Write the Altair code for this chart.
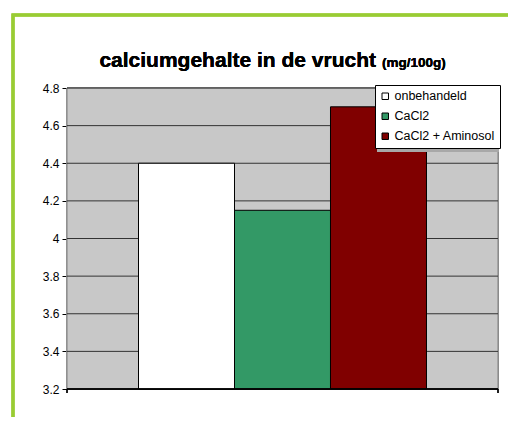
import altair as alt
import pandas as pd

series = ["onbehandeld", "CaCl2", "CaCl2 + Aminosol"]
values = [4.4, 4.15, 4.7]
colors = ["#ffffff", "#339966", "#800000"]
y_ticks = [3.2, 3.4, 3.6, 3.8, 4.0, 4.2, 4.4, 4.6, 4.8]

df = pd.DataFrame({"serie": series, "waarde": values, "basis": [3.2] * 3})
ticks_df = pd.DataFrame({"t": y_ticks})

W, H = 431, 301
FONT = "Liberation Sans"

yscale = alt.Scale(domain=[3.2, 4.8], zero=False, nice=False)
xscale = alt.Scale(domain=series, paddingInner=0, paddingOuter=0.745)

yaxis = alt.Axis(values=y_ticks, title=None, labelFont=FONT, labelFontSize=12,
                 labelColor="#000000", domainColor="#000000", tickColor="#000000",
                 tickSize=5, grid=False, labelPadding=3, labelOverlap=False,
                 labelExpr="datum.value == 4 ? '4' : format(datum.value, '.1f')")

bg = alt.Chart(df).mark_rect(color="#c8c8c8", stroke="#808080", strokeWidth=1).encode(
    x=alt.value(0), x2=alt.value(W), y=alt.value(0), y2=alt.value(H)
)

grid = alt.Chart(ticks_df).mark_rule(color="#333333", strokeWidth=1).encode(
    y=alt.Y("t:Q", scale=yscale, axis=yaxis),
)

bars = alt.Chart(df).mark_bar(stroke="#000000", strokeWidth=1).encode(
    x=alt.X("serie:N", scale=xscale, axis=None, sort=series),
    y=alt.Y("waarde:Q", scale=yscale, axis=yaxis),
    y2="basis:Q",
    color=alt.Color("serie:N", sort=series,
                    scale=alt.Scale(domain=series, range=colors),
                    legend=alt.Legend(
                        title=None, orient="none", legendX=308, legendY=-3,
                        direction="vertical",
                        fillColor="#ffffff", strokeColor="#000000", padding=5,
                        symbolType="square", symbolSize=42, symbolStrokeColor="#000000",
                        symbolStrokeWidth=1, symbolOpacity=1,
                        labelFont=FONT, labelFontSize=12.5, labelColor="#000000",
                        rowPadding=7, labelOffset=3, symbolOffset=-1)),
)

xaxis = alt.Chart(df).mark_rule(color="#000000", strokeWidth=1).encode(
    x=alt.value(0), x2=alt.value(W), y=alt.value(H)
)
xtick_l = alt.Chart(df).mark_rule(color="#000000", strokeWidth=1).encode(
    x=alt.value(0), y=alt.value(H), y2=alt.value(H + 4)
)
xtick_r = alt.Chart(df).mark_rule(color="#000000", strokeWidth=1).encode(
    x=alt.value(W), y=alt.value(H), y2=alt.value(H + 4)
)

shadow = alt.Chart(df).mark_rect(color="#a8a8a8").encode(
    x=alt.value(310), x2=alt.value(432), y=alt.value(-1), y2=alt.value(64)
)

frame = alt.Chart(df).mark_rect(fill=None, stroke="#99cc33", strokeWidth=3, clip=False).encode(
    x=alt.value(-54), x2=alt.value(480), y=alt.value(-73), y2=alt.value(380)
)

title_main = alt.Chart(df).mark_text(
    text="calciumgehalte in de vrucht", font=FONT, fontSize=21, fontWeight="bold",
    align="right", baseline="alphabetic", color="#000000"
).encode(x=alt.value(309), y=alt.value(-21))

title_unit = alt.Chart(df).mark_text(
    text="(mg/100g)", font=FONT, fontSize=13.5, fontWeight="bold",
    align="left", baseline="alphabetic", color="#000000"
).encode(x=alt.value(315), y=alt.value(-21))

chart = alt.layer(
    bg, grid, bars, shadow, xaxis, xtick_l, xtick_r, frame, title_main, title_unit
).properties(
    width=W, height=H,
    autosize=alt.AutoSizeParams(type="none"),
    padding={"left": 59, "top": 80, "right": 10, "bottom": 28},
).configure_view(
    stroke=None
).configure(background="#ffffff")

chart.save("out.html", embed_options={"renderer": "svg", "actions": False})
